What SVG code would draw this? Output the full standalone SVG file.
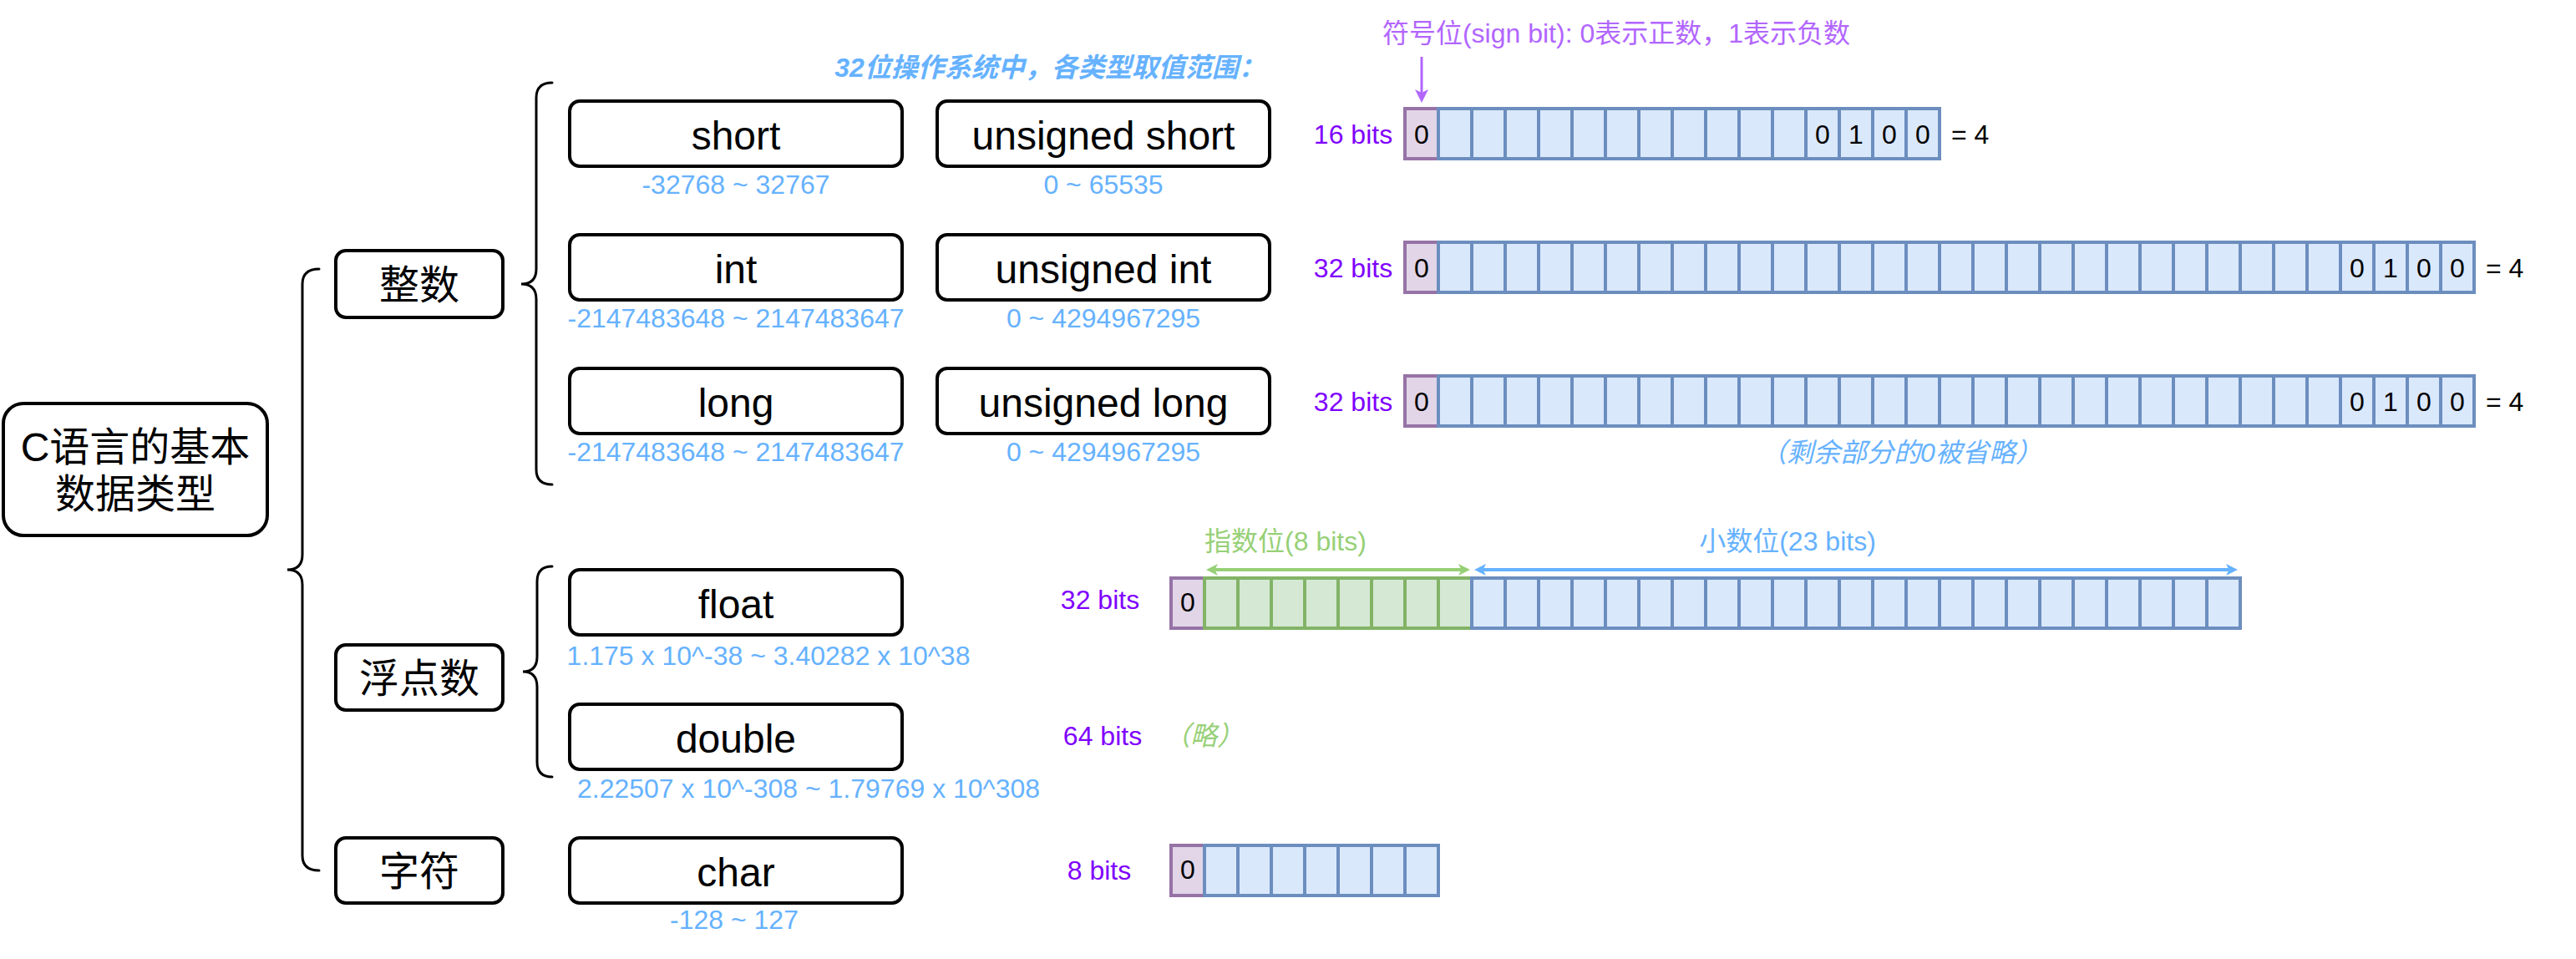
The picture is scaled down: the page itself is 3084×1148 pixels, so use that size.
<svg xmlns="http://www.w3.org/2000/svg" width="3084" height="1148" viewBox="0 0 3084 1148">
<style>
text{font-family:"Liberation Sans","Noto Sans CJK SC",sans-serif}
.box{fill:#fff;stroke:#000;stroke-width:4}
.t48{font-size:48px;text-anchor:middle;fill:#000}
.rng{font-size:32px;fill:#66B2FF;text-anchor:middle}
.bits{font-size:32px;fill:#7F00FF;text-anchor:middle}
.dg{font-size:32px;fill:#000;text-anchor:middle}
.eq{font-size:32px;fill:#000}
.sign{fill:#E1D5E7;stroke:#9673A6;stroke-width:4}
.exp{fill:#D5E8D4;stroke:#82B366;stroke-width:4}
.man{fill:#DAE8FC;stroke:#6C8EBF;stroke-width:4}
.expl{fill:none;stroke:#82B366;stroke-width:4}
.manl{fill:none;stroke:#6C8EBF;stroke-width:4}
.brace{fill:none;stroke:#000;stroke-width:3;stroke-linecap:round}
</style>
<defs>
<marker id="ap" viewBox="0 0 16 16" refX="8" refY="8" markerWidth="16" markerHeight="16" markerUnits="userSpaceOnUse" orient="auto-start-reverse"><path d="M0,0 L16,8 L0,16 L4,8 z" fill="#B266FF"/></marker>
<marker id="ag" viewBox="0 0 16 16" refX="8" refY="8" markerWidth="14" markerHeight="14" markerUnits="userSpaceOnUse" orient="auto-start-reverse"><path d="M0,0 L16,8 L0,16 L4,8 z" fill="#97D077"/></marker>
<marker id="ab" viewBox="0 0 16 16" refX="8" refY="8" markerWidth="14" markerHeight="14" markerUnits="userSpaceOnUse" orient="auto-start-reverse"><path d="M0,0 L16,8 L0,16 L4,8 z" fill="#66B2FF"/></marker>
</defs>

<g id="connectors">
<path class="brace" d="M382 322 Q362 322 362 340 L362 664 Q362 682 344 682 Q362 682 362 700 L362 1024 Q362 1042 382 1042"/>
<path class="brace" d="M661 99 Q642 99 642 117 L642 322 Q642 340 624 340 Q642 340 642 358 L642 562 Q642 580 661 580"/>
<path class="brace" d="M661 678 Q643 678 643 696 L643 786 Q643 804 626 804 Q643 804 643 822 L643 912 Q643 930 661 930"/>
<line x1="1702" y1="68" x2="1702" y2="115" stroke="#B266FF" stroke-width="3" marker-end="url(#ap)"/>
<line x1="1451" y1="682" x2="1753" y2="682" stroke="#97D077" stroke-width="4" marker-start="url(#ag)" marker-end="url(#ag)"/>
<line x1="1772" y1="682" x2="2672" y2="682" stroke="#66B2FF" stroke-width="4" marker-start="url(#ab)" marker-end="url(#ab)"/>
</g>

<g id="root">
<rect class="box" x="4" y="483" width="316" height="158" rx="24"/>
<text class="t48" x="162" y="552">C语言的基本</text>
<text class="t48" x="162" y="608">数据类型</text>
</g>

<g id="cat-int"><rect class="box" x="402" y="300" width="200" height="80" rx="12"/><text class="t48" x="502" y="358">整数</text></g>
<g id="cat-float"><rect class="box" x="402" y="772" width="200" height="78" rx="12"/><text class="t48" x="502" y="829">浮点数</text></g>
<g id="cat-char"><rect class="box" x="402" y="1003" width="200" height="78" rx="12"/><text class="t48" x="502" y="1060">字符</text></g>

<text x="1257" y="92" style="font-size:32px;font-weight:bold;font-style:italic;fill:#66B2FF;text-anchor:middle">32位操作系统中，各类型取值范围：</text>

<g id="t-short"><rect class="box" x="682" y="121" width="398" height="78" rx="12"/><text class="t48" x="881" y="179">short</text><text class="rng" x="881" y="232">-32768 ~ 32767</text></g>
<g id="t-ushort"><rect class="box" x="1122" y="121" width="398" height="78" rx="12"/><text class="t48" x="1321" y="179">unsigned short</text><text class="rng" x="1321" y="232">0 ~ 65535</text></g>
<g id="t-int"><rect class="box" x="682" y="281" width="398" height="78" rx="12"/><text class="t48" x="881" y="339">int</text><text class="rng" x="881" y="392">-2147483648 ~ 2147483647</text></g>
<g id="t-uint"><rect class="box" x="1122" y="281" width="398" height="78" rx="12"/><text class="t48" x="1321" y="339">unsigned int</text><text class="rng" x="1321" y="392">0 ~ 4294967295</text></g>
<g id="t-long"><rect class="box" x="682" y="441" width="398" height="78" rx="12"/><text class="t48" x="881" y="499">long</text><text class="rng" x="881" y="552">-2147483648 ~ 2147483647</text></g>
<g id="t-ulong"><rect class="box" x="1122" y="441" width="398" height="78" rx="12"/><text class="t48" x="1321" y="499">unsigned long</text><text class="rng" x="1321" y="552">0 ~ 4294967295</text></g>
<g id="t-float"><rect class="box" x="682" y="682" width="398" height="78" rx="12"/><text class="t48" x="881" y="740">float</text><text class="rng" x="920" y="796">1.175 x 10^-38 ~ 3.40282 x 10^38</text></g>
<g id="t-double"><rect class="box" x="682" y="843" width="398" height="78" rx="12"/><text class="t48" x="881" y="901">double</text><text class="rng" x="968" y="955">2.22507 x 10^-308 ~ 1.79769 x 10^308</text></g>
<g id="t-char"><rect class="box" x="682" y="1003" width="398" height="78" rx="12"/><text class="t48" x="881" y="1061">char</text><text class="rng" x="879" y="1112">-128 ~ 127</text></g>

<text x="1935" y="51" style="font-size:32px;fill:#B266FF;text-anchor:middle">符号位(sign bit): 0表示正数，1表示负数</text>

<g id="bits-short">
<text class="bits" x="1620" y="172">16 bits</text>
<rect class="sign" x="1682" y="130" width="40" height="60"/>
<rect class="man" x="1722" y="130" width="600" height="60"/>
<path class="manl" d="M1762 130v60M1802 130v60M1842 130v60M1882 130v60M1922 130v60M1962 130v60M2002 130v60M2042 130v60M2082 130v60M2122 130v60M2162 130v60M2202 130v60M2242 130v60M2282 130v60"/>
<text class="dg" x="1702" y="172">0</text>
<text class="dg" x="2182" y="172">0</text><text class="dg" x="2222" y="172">1</text><text class="dg" x="2262" y="172">0</text><text class="dg" x="2302" y="172">0</text>
<text class="eq" x="2336" y="172">= 4</text>
</g>

<g id="bits-int">
<text class="bits" x="1620" y="332">32 bits</text>
<rect class="sign" x="1682" y="290" width="40" height="60"/>
<rect class="man" x="1722" y="290" width="1240" height="60"/>
<path class="manl" d="M1762 290v60M1802 290v60M1842 290v60M1882 290v60M1922 290v60M1962 290v60M2002 290v60M2042 290v60M2082 290v60M2122 290v60M2162 290v60M2202 290v60M2242 290v60M2282 290v60M2322 290v60M2362 290v60M2402 290v60M2442 290v60M2482 290v60M2522 290v60M2562 290v60M2602 290v60M2642 290v60M2682 290v60M2722 290v60M2762 290v60M2802 290v60M2842 290v60M2882 290v60M2922 290v60"/>
<text class="dg" x="1702" y="332">0</text>
<text class="dg" x="2822" y="332">0</text><text class="dg" x="2862" y="332">1</text><text class="dg" x="2902" y="332">0</text><text class="dg" x="2942" y="332">0</text>
<text class="eq" x="2976" y="332">= 4</text>
</g>

<g id="bits-long">
<text class="bits" x="1620" y="492">32 bits</text>
<rect class="sign" x="1682" y="450" width="40" height="60"/>
<rect class="man" x="1722" y="450" width="1240" height="60"/>
<path class="manl" d="M1762 450v60M1802 450v60M1842 450v60M1882 450v60M1922 450v60M1962 450v60M2002 450v60M2042 450v60M2082 450v60M2122 450v60M2162 450v60M2202 450v60M2242 450v60M2282 450v60M2322 450v60M2362 450v60M2402 450v60M2442 450v60M2482 450v60M2522 450v60M2562 450v60M2602 450v60M2642 450v60M2682 450v60M2722 450v60M2762 450v60M2802 450v60M2842 450v60M2882 450v60M2922 450v60"/>
<text class="dg" x="1702" y="492">0</text>
<text class="dg" x="2822" y="492">0</text><text class="dg" x="2862" y="492">1</text><text class="dg" x="2902" y="492">0</text><text class="dg" x="2942" y="492">0</text>
<text class="eq" x="2976" y="492">= 4</text>
</g>

<text x="2276" y="553" style="font-size:32px;font-style:italic;fill:#66B2FF;text-anchor:middle">（剩余部分的0被省略）</text>

<g id="bits-float">
<text class="bits" x="1317" y="729">32 bits</text>
<text x="1539" y="659" style="font-size:32px;fill:#97D077;text-anchor:middle">指数位(8 bits)</text>
<text x="2140" y="659" style="font-size:32px;fill:#66B2FF;text-anchor:middle">小数位(23 bits)</text>
<rect class="sign" x="1402" y="692" width="40" height="60"/>
<rect class="exp" x="1442" y="692" width="320" height="60"/>
<path class="expl" d="M1482 692v60M1522 692v60M1562 692v60M1602 692v60M1642 692v60M1682 692v60M1722 692v60"/>
<rect class="man" x="1762" y="692" width="920" height="60"/>
<path class="manl" d="M1802 692v60M1842 692v60M1882 692v60M1922 692v60M1962 692v60M2002 692v60M2042 692v60M2082 692v60M2122 692v60M2162 692v60M2202 692v60M2242 692v60M2282 692v60M2322 692v60M2362 692v60M2402 692v60M2442 692v60M2482 692v60M2522 692v60M2562 692v60M2602 692v60M2642 692v60"/>
<text class="dg" x="1422" y="732">0</text>
</g>

<g id="bits-double">
<text class="bits" x="1320" y="892">64 bits</text>
<text x="1441" y="892" style="font-size:32px;font-style:italic;fill:#97D077;text-anchor:middle">（略）</text>
</g>

<g id="bits-char">
<text class="bits" x="1316" y="1053">8 bits</text>
<rect class="sign" x="1402" y="1012" width="40" height="60"/>
<rect class="man" x="1442" y="1012" width="280" height="60"/>
<path class="manl" d="M1482 1012v60M1522 1012v60M1562 1012v60M1602 1012v60M1642 1012v60M1682 1012v60"/>
<text class="dg" x="1422" y="1052">0</text>
</g>
</svg>
